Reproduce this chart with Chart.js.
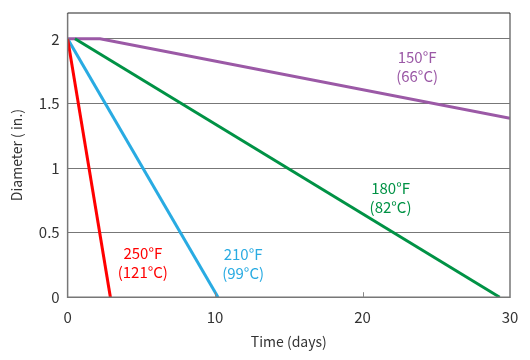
<!DOCTYPE html>
<html><head><meta charset="utf-8">
<script src="https://cdn.jsdelivr.net/npm/chart.js@4/dist/chart.umd.min.js"></script>
<style>html,body{margin:0;padding:0;background:#fff}#wrap{width:530px;height:360px}</style>
</head><body><div id="wrap"><canvas id="c" width="530" height="360"></canvas></div>
<script>
const seriesNames = ["250°F (121°C)", "210°F (99°C)", "180°F (82°C)", "150°F (66°C)"];
const days250 = [0, 2.9];
const dia250 = [2, 0];
const days210 = [0, 10.2];
const dia210 = [2, 0];
const days180 = [0.5, 29.3];
const dia180 = [2, 0];
const days150 = [0, 2.2, 30];
const dia150 = [2, 2, 1.385];
const xTicks = [0, 10, 20, 30];
const yTicks = [0, 0.5, 1, 1.5, 2];
const labelLines = [["250°F", "(121°C)"], ["210°F", "(99°C)"], ["180°F", "(82°C)"], ["150°F", "(66°C)"]];
const labelAt = [[5.1, 0.27], [11.9, 0.26], [21.9, 0.77], [23.7, 1.78]];
const colors = ["#ff0000", "#29abe2", "#009245", "#9b59a6"];

const FONT = "'Noto Sans CJK JP', 'Noto Sans', sans-serif";
const pts = (xs, ys) => xs.map((x, i) => ({x, y: ys[i]}));
const allX = [days250, days210, days180, days150];
const allY = [dia250, dia210, dia180, dia150];

const deco = {
  id: 'deco',
  afterDatasetsDraw(chart) {
    const {ctx, chartArea: a, scales: {x, y}} = chart;
    ctx.save();
    ctx.lineWidth = 1.5;
    ctx.strokeStyle = '#777';
    ctx.beginPath();
    ctx.moveTo(a.left, a.top); ctx.lineTo(a.left, a.bottom); ctx.lineTo(a.right, a.bottom); ctx.lineTo(a.right, a.top);
    ctx.stroke();
    ctx.strokeStyle = '#222';
    ctx.lineWidth = 1.2;
    ctx.beginPath(); ctx.moveTo(a.left, a.top); ctx.lineTo(a.right, a.top); ctx.stroke();
    ctx.strokeStyle = '#888'; ctx.lineWidth = 1;
    xTicks.slice(1, -1).forEach(v => {
      const px = Math.round(x.getPixelForValue(v)) + 0.5;
      ctx.beginPath(); ctx.moveTo(px, a.bottom); ctx.lineTo(px, a.bottom - 5); ctx.stroke();
    });
    ctx.font = "15px " + FONT;
    ctx.textAlign = 'center';
    ctx.textBaseline = 'middle';
    labelLines.forEach((lines, i) => {
      const px = x.getPixelForValue(labelAt[i][0]);
      const py = y.getPixelForValue(labelAt[i][1]);
      ctx.fillStyle = colors[i];
      lines.forEach((t, j) => ctx.fillText(t, px, py + (j - 0.5) * 19));
    });
    ctx.restore();
  }
};

new Chart(document.getElementById('c'), {
  type: 'scatter',
  data: {
    datasets: seriesNames.map((n, i) => ({
      label: n,
      data: pts(allX[i], allY[i]),
      showLine: true,
      borderColor: colors[i],
      backgroundColor: colors[i],
      borderWidth: 3,
      pointRadius: 0,
      tension: 0
    }))
  },
  options: {
    responsive: false,
    animation: false,
    layout: {padding: {top: 13, right: 20, bottom: 6, left: 4}},
    plugins: {legend: {display: false}, tooltip: {enabled: false}},
    scales: {
      x: {
        type: 'linear', min: 0, max: 30,
        afterBuildTicks: s => { s.ticks = xTicks.map(v => ({value: v})); },
        afterFit: s => { s.paddingLeft = 0; s.paddingRight = 0; },
        grid: {display: false},
        border: {display: false},
        ticks: {color: '#333', font: {family: FONT, size: 15}, padding: 3, maxRotation: 0, callback: v => String(v)},
        title: {display: true, text: 'Time (days)', color: '#333', font: {family: FONT, size: 14}, padding: {top: 4}}
      },
      y: {
        type: 'linear', min: 0, max: 2.2,
        afterBuildTicks: s => { s.ticks = yTicks.map(v => ({value: v})); },
        afterFit: s => { s.paddingTop = 0; s.paddingBottom = 0; },
        grid: {color: '#777', lineWidth: 1, drawTicks: false},
        border: {display: false},
        ticks: {color: '#333', font: {family: FONT, size: 15}, padding: 8, callback: v => String(v)},
        title: {display: true, text: 'Diameter ( in.)', color: '#333', font: {family: FONT, size: 14}, padding: {bottom: 6}}
      }
    }
  },
  plugins: [deco]
});
</script></body></html>
